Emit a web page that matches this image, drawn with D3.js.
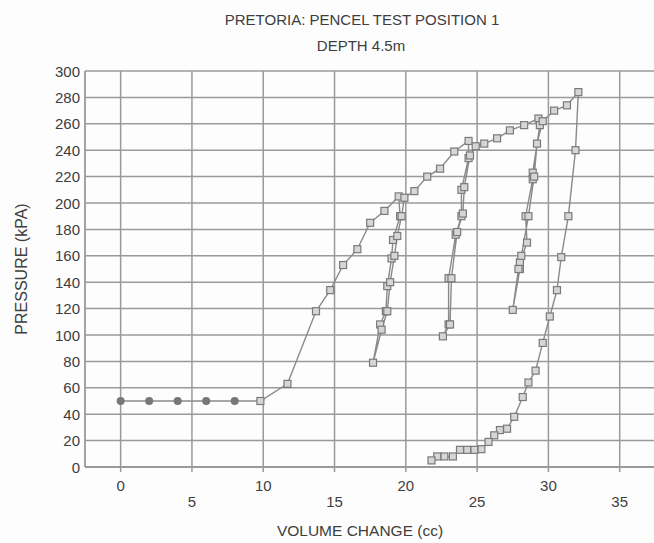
<!DOCTYPE html>
<html lang="en">
<head>
<meta charset="UTF-8">
<title>Pretoria pencel test</title>
<script src="https://cdn.jsdelivr.net/npm/d3@7"></script>
<style>
    body { margin: 0; background: #fdfdfd; }
    svg { display: block; font-family: "Liberation Sans", Arial, sans-serif; }
    text { fill: #3e3e3e; }
</style>
</head>
<body>
<svg width="654" height="543"></svg>
<script>
    // first readings (drawn as filled dots)
    const startVolume = [0, 2, 4, 6, 8];
    const startPressure = [50, 50, 50, 50, 50];

    // rest of the test, in reading order (squares)
    const volume = [
        9.8, 11.7, 13.7, 14.7, 15.6, 16.6, 17.5, 18.5, 19.5,
        19.6, 19.1, 19.0, 18.7, 18.6, 18.2, 17.7,
        18.3, 18.7, 18.9, 19.2, 19.4, 19.7, 19.9,
        20.6, 21.5, 22.4, 23.4, 24.4,
        24.4, 23.9, 23.9, 23.5, 23.0, 23.0, 22.6,
        23.1, 23.2, 23.6, 24.0, 24.1, 24.5, 24.9,
        25.5, 26.4, 27.3, 28.3, 29.3,
        29.4, 28.9, 28.9, 28.4, 28.5, 28.0, 28.0, 27.5,
        27.9, 28.1, 28.6, 29.0, 29.2, 29.6,
        30.4, 31.3, 32.1,
        31.9, 31.4, 30.9, 30.6, 30.1, 29.6, 29.1, 28.6, 28.2, 27.6, 27.1, 26.6,
        26.2, 25.8, 25.3, 24.8, 24.3, 23.8, 23.3, 22.7, 22.2, 21.8
    ];
    const pressure = [
        50, 63, 118, 134, 153, 165, 185, 194, 205,
        190, 172, 158, 137, 118, 108, 79,
        104, 118, 140, 160, 175, 190, 204,
        209, 220, 226, 239, 247,
        234, 210, 190, 176, 143, 108, 99,
        108, 143, 178, 192, 212, 236, 243,
        245, 249, 255, 259, 264,
        259, 223, 218, 190, 170, 155, 150, 119,
        150, 160, 190, 220, 245, 262,
        270, 274, 284,
        240, 190, 159, 134, 114, 94, 73, 64, 53, 38, 29, 28,
        24, 19, 13.5, 13, 13, 13, 8, 8, 8, 5
    ];

    const xTicks = [0, 5, 10, 15, 20, 25, 30, 35];
    const xGrid = [0, 5, 10, 15, 20, 25, 30, 35, 40];
    const yTicks = d3.range(0, 301, 20);

    const svg = d3.select("svg");
    const x = d3.scaleLinear().domain([-2.5, 40]).range([85, 691]);
    const y = d3.scaleLinear().domain([0, 300]).range([467, 71]);

    const gridColor = "#9a9a9a";

    // grid
    svg.append("g").selectAll("line").data(yTicks).join("line")
        .attr("x1", x(-2.5)).attr("x2", x(40))
        .attr("y1", d => y(d)).attr("y2", d => y(d))
        .attr("stroke", gridColor).attr("stroke-width", 1.5);
    svg.append("g").selectAll("line").data(xGrid).join("line")
        .attr("x1", d => x(d)).attr("x2", d => x(d))
        .attr("y1", y(300)).attr("y2", y(0) + 5)
        .attr("stroke", gridColor).attr("stroke-width", 1.5);
    svg.append("line")
        .attr("x1", x(-2.5)).attr("x2", x(-2.5))
        .attr("y1", y(300)).attr("y2", y(0))
        .attr("stroke", gridColor).attr("stroke-width", 1.8);
    svg.append("line")
        .attr("x1", x(-2.5)).attr("x2", x(40))
        .attr("y1", y(0)).attr("y2", y(0))
        .attr("stroke", gridColor).attr("stroke-width", 1.8);

    // tick labels
    svg.append("g").selectAll("text").data(yTicks).join("text")
        .attr("x", 80).attr("y", d => y(d) + 5.5)
        .attr("text-anchor", "end").attr("font-size", 15)
        .text(d => d);
    svg.append("g").selectAll("text").data(xTicks).join("text")
        .attr("x", d => x(d))
        .attr("y", (d, i) => i % 2 ? 507 : 491)
        .attr("text-anchor", "middle").attr("font-size", 15)
        .text(d => d);

    // titles
    svg.append("text").attr("x", 362).attr("y", 25).attr("text-anchor", "middle")
        .attr("font-size", 15).text("PRETORIA: PENCEL TEST POSITION 1");
    svg.append("text").attr("x", 361).attr("y", 51).attr("text-anchor", "middle")
        .attr("font-size", 15).text("DEPTH 4.5m");
    svg.append("text").attr("x", 360).attr("y", 536).attr("text-anchor", "middle")
        .attr("font-size", 15.5).text("VOLUME CHANGE (cc)");
    svg.append("text")
        .attr("transform", `translate(27,${y(150)}) rotate(-90)`)
        .attr("text-anchor", "middle").attr("font-size", 16)
        .text("PRESSURE (kPA)");

    // the curve
    const pts = startVolume.map((v, i) => [v, startPressure[i]])
        .concat(volume.map((v, i) => [v, pressure[i]]));
    svg.append("path")
        .attr("d", d3.line().x(d => x(d[0])).y(d => y(d[1]))(pts))
        .attr("fill", "none").attr("stroke", "#8a8a8a").attr("stroke-width", 1.4);

    svg.append("g").selectAll("circle").data(startVolume).join("circle")
        .attr("cx", d => x(d)).attr("cy", (d, i) => y(startPressure[i]))
        .attr("r", 4).attr("fill", "#777");

    svg.append("g").selectAll("rect").data(volume).join("rect")
        .attr("x", d => x(d) - 3.5).attr("y", (d, i) => y(pressure[i]) - 3.5)
        .attr("width", 7).attr("height", 7)
        .attr("fill", "#d6d6d6").attr("stroke", "#7a7a7a").attr("stroke-width", 1.2);
</script>
</body>
</html>
